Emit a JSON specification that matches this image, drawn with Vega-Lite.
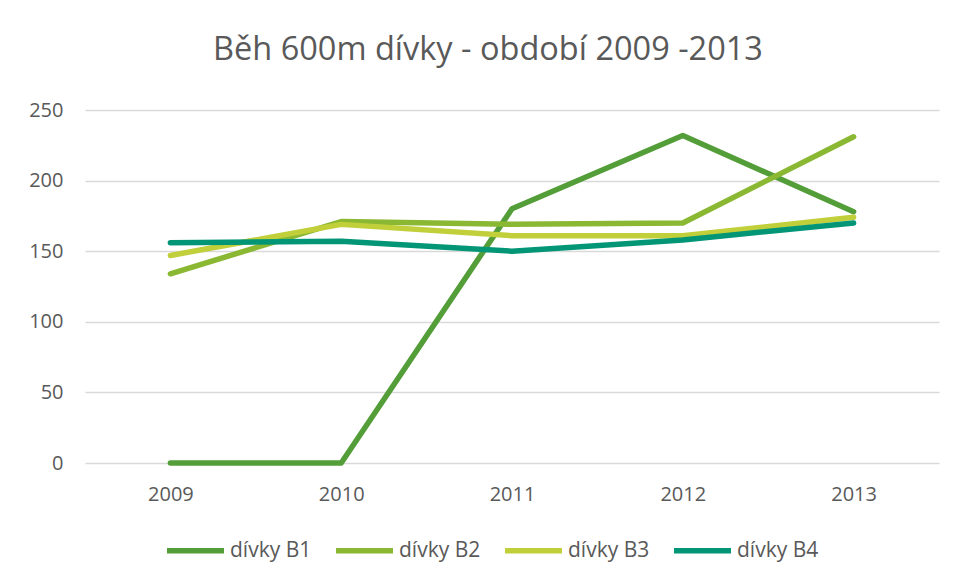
{
  "$schema": "https://vega.github.io/schema/vega-lite/v6.json",
  "autosize": {"type": "none"},
  "width": 854,
  "height": 353,
  "padding": {"left": 85, "top": 110, "right": 18, "bottom": 115},
  "background": "white",
  "title": {
    "text": "Běh 600m dívky - období 2009 -2013",
    "font": "Open Sans",
    "fontSize": 32.5,
    "fontWeight": "normal",
    "color": "#595959",
    "anchor": "middle",
    "frame": "group",
    "dx": -24,
    "offset": 34
  },
  "data": {
    "values": [
      {"rok": "2009", "serie": "dívky B1", "cas": 0},
      {"rok": "2010", "serie": "dívky B1", "cas": 0},
      {"rok": "2011", "serie": "dívky B1", "cas": 180},
      {"rok": "2012", "serie": "dívky B1", "cas": 232},
      {"rok": "2013", "serie": "dívky B1", "cas": 178},
      {"rok": "2009", "serie": "dívky B2", "cas": 134},
      {"rok": "2010", "serie": "dívky B2", "cas": 171},
      {"rok": "2011", "serie": "dívky B2", "cas": 169},
      {"rok": "2012", "serie": "dívky B2", "cas": 170},
      {"rok": "2013", "serie": "dívky B2", "cas": 231},
      {"rok": "2009", "serie": "dívky B3", "cas": 147},
      {"rok": "2010", "serie": "dívky B3", "cas": 169},
      {"rok": "2011", "serie": "dívky B3", "cas": 161},
      {"rok": "2012", "serie": "dívky B3", "cas": 161},
      {"rok": "2013", "serie": "dívky B3", "cas": 174},
      {"rok": "2009", "serie": "dívky B4", "cas": 156},
      {"rok": "2010", "serie": "dívky B4", "cas": 157},
      {"rok": "2011", "serie": "dívky B4", "cas": 150},
      {"rok": "2012", "serie": "dívky B4", "cas": 158},
      {"rok": "2013", "serie": "dívky B4", "cas": 170}
    ]
  },
  "mark": {"type": "line", "strokeWidth": 5.5, "strokeCap": "round", "strokeJoin": "round"},
  "encoding": {
    "x": {
      "field": "rok",
      "type": "ordinal",
      "scale": {"type": "point", "padding": 0.5},
      "axis": {
        "title": null,
        "labelAngle": 0,
        "domain": false,
        "ticks": false,
        "grid": false,
        "labelPadding": 21,
        "labelFont": "Open Sans",
        "labelFontSize": 20,
        "labelColor": "#595959"
      }
    },
    "y": {
      "field": "cas",
      "type": "quantitative",
      "scale": {"domain": [0, 250]},
      "axis": {
        "title": null,
        "values": [0, 50, 100, 150, 200, 250],
        "domain": false,
        "ticks": false,
        "gridColor": "#d9d9d9",
        "gridWidth": 1.5,
        "labelPadding": 22,
        "labelFont": "Open Sans",
        "labelFontSize": 20,
        "labelColor": "#595959"
      }
    },
    "color": {
      "field": "serie",
      "type": "nominal",
      "scale": {
        "domain": ["dívky B1", "dívky B2", "dívky B3", "dívky B4"],
        "range": ["#549E39", "#8AB833", "#C0CF3A", "#029676"]
      },
      "legend": {
        "title": null,
        "orient": "none",
        "direction": "horizontal",
        "legendX": 79,
        "legendY": 409,
        "symbolType": "stroke",
        "symbolSize": 3249,
        "symbolStrokeWidth": 5.5,
        "labelOffset": 3,
        "columnPadding": 13,
        "labelFont": "Open Sans",
        "labelFontSize": 21,
        "labelColor": "#595959"
      }
    }
  },
  "config": {
    "view": {"stroke": null}
  }
}
